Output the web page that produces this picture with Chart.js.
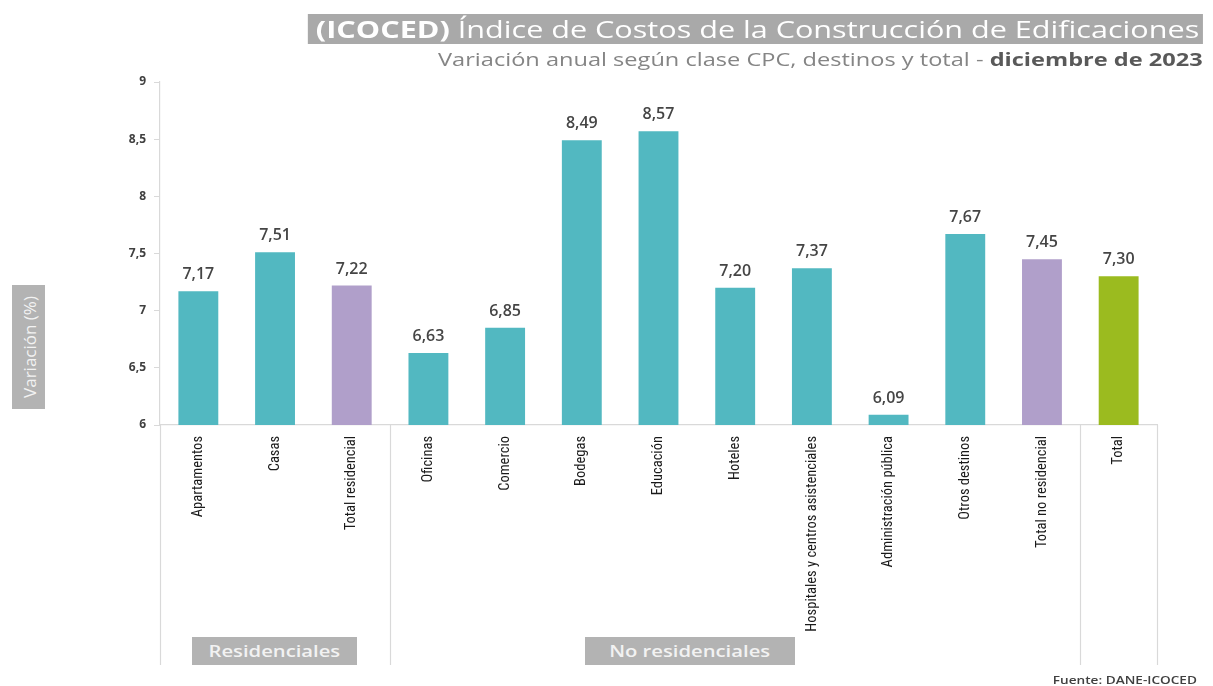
<!DOCTYPE html>
<html>
<head>
<meta charset="utf-8">
<script src="https://cdn.jsdelivr.net/npm/chart.js@4"></script>
<style>
  html, body { margin:0; padding:0; background:#fff; }
  #wrap { position:relative; width:1213px; height:686px; overflow:hidden; font-family:"Open Sans", sans-serif; }
  canvas { position:absolute; left:0; top:0; }
  .title { position:absolute; right:10px; top:14px; height:30px; background:#a9a9a9; color:#fff; font-size:23px; line-height:30px; padding:0 3px 0 6px; white-space:nowrap; transform:scaleX(1.33); transform-origin:right center; }
  .title b { font-weight:700; }
  .subtitle { position:absolute; right:10px; top:47px; font-size:18px; color:#858585; white-space:nowrap; transform:scaleX(1.31); transform-origin:right center; }
  .subtitle b { color:#595959; font-weight:700; }
  .ytitle { position:absolute; left:12px; top:285px; width:33px; height:124px; background:#b3b3b3; }
  .ytitle span { position:absolute; left:50%; top:50%; transform:translate(-50%,-50%) rotate(-90deg); color:#f2f2f2; font-size:17px; white-space:nowrap; font-family:"Open Sans", sans-serif; }
  .group { position:absolute; top:637px; height:28px; background:#b3b3b3; color:#f2f2f2; line-height:28px; text-align:center; }
  .group span { display:inline-block; font-size:17px; font-weight:600; transform:scaleX(1.19); }
  .footer { position:absolute; right:16px; top:673px; font-size:10px; font-weight:600; color:#404040; transform:scaleX(1.36); transform-origin:right center; white-space:nowrap; }
</style>
</head>
<body>
<div id="wrap">
  <canvas id="c" width="1213" height="686"></canvas>
  <div class="title"><b>(ICOCED)</b> Índice de Costos de la Construcción de Edificaciones</div>
  <div class="subtitle">Variación anual según clase CPC, destinos y total - <b>diciembre de 2023</b></div>
  <div class="ytitle"><span>Variación (%)</span></div>
  <div class="group" style="left:192px;width:165px;"><span>Residenciales</span></div>
  <div class="group" style="left:585px;width:210px;"><span>No residenciales</span></div>
  <div class="footer">Fuente: DANE-ICOCED</div>
</div>
<script>
const categories = ["Apartamentos","Casas","Total residencial","Oficinas","Comercio","Bodegas","Educación","Hoteles","Hospitales y centros asistenciales","Administración pública","Otros destinos","Total no residencial","Total"];
const values = [7.17, 7.51, 7.22, 6.63, 6.85, 8.49, 8.57, 7.20, 7.37, 6.09, 7.67, 7.45, 7.30];
const barColors = ["#52b8c1","#52b8c1","#b09fca","#52b8c1","#52b8c1","#52b8c1","#52b8c1","#52b8c1","#52b8c1","#52b8c1","#52b8c1","#b09fca","#9bbb1f"];
const yTicks = [6, 6.5, 7, 7.5, 8, 8.5, 9];
const groupBreaks = [2.5, 11.5]; // boundaries between category groups (index positions)

const fmt = v => v.toFixed(2).replace('.', ',');
const fmtTick = v => String(v).replace('.', ',');

const extras = {
  id: 'extras',
  afterDatasetsDraw(chart) {
    const ctx = chart.ctx, x = chart.scales.x, a = chart.chartArea;
    const meta = chart.getDatasetMeta(0);
    ctx.save();
    ctx.font = '600 16px "Open Sans", sans-serif';
    ctx.fillStyle = '#454545';
    ctx.textAlign = 'center';
    ctx.textBaseline = 'alphabetic';
    meta.data.forEach((bar, i) => {
      ctx.fillText(fmt(values[i]), bar.x, bar.y - 12);
    });
    ctx.strokeStyle = '#d9d9d9';
    ctx.lineWidth = 1.2;
    const bottom = 665;
    const step = x.getPixelForValue(1) - x.getPixelForValue(0);
    const lines = [a.left, a.right].concat(groupBreaks.map(b => x.getPixelForValue(0) + b * step));
    lines.forEach(px => {
      ctx.beginPath();
      ctx.moveTo(Math.round(px) + 0.5, a.bottom);
      ctx.lineTo(Math.round(px) + 0.5, bottom);
      ctx.stroke();
    });
    ctx.restore();
  }
};

new Chart(document.getElementById('c'), {
  type: 'bar',
  data: {
    labels: categories,
    datasets: [{
      data: values,
      backgroundColor: barColors,
      borderWidth: 0,
      barPercentage: 0.52,
      categoryPercentage: 1.0
    }]
  },
  options: {
    responsive: false,
    animation: false,
    layout: { padding: { left: 0, right: 56, top: 82, bottom: 0 } },
    plugins: { legend: { display: false }, tooltip: { enabled: false } },
    scales: {
      x: {
        grid: { display: false, drawTicks: false },
        border: { color: '#d9d9d9', width: 1.2 },
        ticks: {
          minRotation: 90, maxRotation: 90, autoSkip: false, padding: 11,
          color: '#1a1a1a',
          font: { family: '"Liberation Sans Narrow", "Roboto Condensed", "DejaVu Sans Condensed", sans-serif', size: 14.5 }
        },
        afterFit(s) { s.height = 261; }
      },
      y: {
        min: 6, max: 9,
        afterBuildTicks(s) { s.ticks = yTicks.map(v => ({ value: v })); },
        grid: { drawOnChartArea: false, drawTicks: true, tickLength: 6, color: '#d9d9d9' },
        border: { color: '#d9d9d9', width: 1.2 },
        ticks: {
          padding: 8, color: '#404040',
          font: { family: '"Open Sans", sans-serif', size: 12, weight: 'bold' },
          callback: v => fmtTick(v)
        },
        afterFit(s) { s.width = 160; }
      }
    }
  },
  plugins: [extras]
});
</script>
</body>
</html>
